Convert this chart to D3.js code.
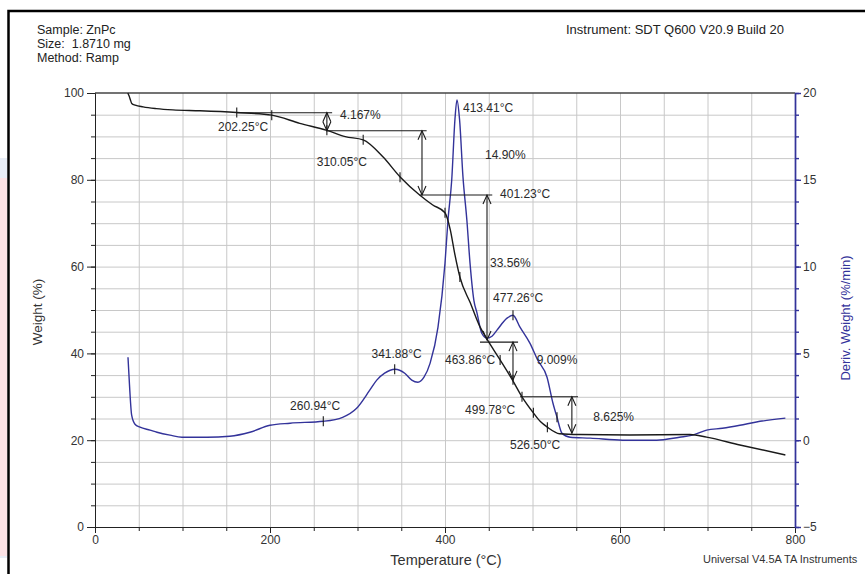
<!DOCTYPE html>
<html>
<head>
<meta charset="utf-8">
<script src="https://cdn.jsdelivr.net/npm/d3@7"></script>
<style>
  body { margin: 0; background: #fff; }
  svg { display: block; font-family: "Liberation Sans", Arial, sans-serif; }
  .grid line { stroke: #c8c8c8; stroke-width: 1; }
  .grid path { display: none; }
  .ann { font-size: 12px; fill: #2a2a2a; }
  .tick text { font-size: 12px; fill: #333; }
</style>
</head>
<body>
<div id="chart"></div>
<script>
// tick labels
var tempTicks = [0, 200, 400, 600, 800];
var weightTicks = [0, 20, 40, 60, 80, 100];
var derivTicks = [-5, 0, 5, 10, 15, 20];

// weight curve (black)
var tgaTemp = [37.5, 39, 40.5, 42, 46, 55, 70, 89, 120, 162, 202, 234, 265, 286, 306.5, 329, 349, 371, 386, 400, 406, 411, 417, 429, 440, 448, 463, 477, 488, 501, 509, 517, 531, 554, 611, 680, 699, 737, 789];
var tgaWeight = [100, 99.3, 98.4, 97.6, 97.2, 96.8, 96.4, 96.1, 95.9, 95.5, 94.9, 93.0, 91.4, 89.95, 89.2, 85.3, 80.6, 76.5, 74.2, 72.4, 68.5, 63.1, 57.6, 51.6, 46.1, 43.3, 38.5, 33.9, 30.0, 26.3, 24.3, 23.0, 21.5, 21.3, 21.2, 21.3, 20.7, 18.9, 16.6];

// derivative weight curve (blue)
var dtgTemp = [37.7, 39.4, 41.9, 45.7, 51.4, 62.9, 70.9, 85.7, 99.4, 128, 154, 177, 200, 223, 261, 283, 299, 314, 322, 331, 342.9, 354, 362, 369, 376, 383, 392, 400, 403.4, 407.7, 411.4, 413.7, 416.6, 420.5, 425, 428.6, 433, 436.6, 442, 448, 453.7, 459.4, 470.9, 477.7, 485.7, 497, 506, 516.6, 523.4, 528, 533.7, 543, 566, 603, 642, 668, 683, 699, 717, 737, 756, 789];
var dtgDeriv = [4.78, 3.2, 1.44, 0.92, 0.75, 0.58, 0.46, 0.29, 0.17, 0.17, 0.23, 0.46, 0.86, 0.98, 1.09, 1.32, 1.84, 2.88, 3.46, 3.86, 4.09, 3.86, 3.46, 3.34, 3.63, 4.44, 6.51, 10.2, 12.67, 15.0, 18.5, 19.6, 18.5, 15.2, 12.67, 10.2, 8.06, 7.32, 6.16, 5.88, 5.99, 6.34, 7.03, 7.2, 6.51, 5.59, 4.61, 3.63, 2.13, 1.32, 0.40, 0.17, 0.12, 0.0, 0.0, 0.17, 0.29, 0.58, 0.69, 0.86, 1.05, 1.27];

// step analysis: [temp from, temp to, weight]
var stepLevels = [[162, 271, 95.46], [265, 379, 91.3], [371, 454, 76.5], [440, 483.5, 42.6], [485.7, 552, 30.0]];
// double arrows: [temp, weight top, weight bottom]
var stepArrows = [[265, 95.46, 91.3], [373.7, 91.3, 76.5], [448, 76.5, 43.1], [477.7, 42.6, 33.9], [545, 30.0, 21.6]];
// small marks on the weight curve: [temp, weight]
var tgaMarks = [[162, 95.5], [202, 94.9], [265, 91.4], [306.5, 89.2], [348.6, 80.6], [400, 72.4], [417, 57.6], [463, 38.5], [477.7, 33.9], [488, 30.0], [501, 26.3], [517, 23.0]];
// marks on the derivative curve: [temp, deriv]
var dtgMarks = [[260.9, 1.09], [342.5, 4.09], [477.7, 7.2], [528, 1.32]];
// labels: text, [temp, weight] of their left/middle point
var annText = ["202.25°C", "4.167%", "310.05°C", "14.90%", "413.41°C", "401.23°C", "33.56%", "477.26°C", "463.86°C", "9.009%", "499.78°C", "8.625%", "526.50°C", "260.94°C", "341.88°C"];
var annTemp = [140.6, 280, 253.4, 445.7, 420.6, 462.9, 451.4, 454.9, 400, 504.8, 422.9, 569.5, 474.3, 222.9, 316];
var annWeight = [92.1, 95.05, 84.2, 85.7, 96.5, 76.7, 60.8, 52.7, 38.5, 38.6, 27.1, 25.4, 18.9, 27.9, 40.0];

var W = 865, H = 574;
var svg = d3.select("#chart").append("svg").attr("width", W).attr("height", H);

// faint strip left of the frame
svg.append("rect").attr("x", 0).attr("y", 158).attr("width", 7).attr("height", 400).attr("fill", "#e8edf6");
svg.append("rect").attr("x", 0).attr("y", 178).attr("width", 7).attr("height", 378).attr("fill", "#fbe2e5");

// frame
svg.append("rect")
  .attr("x", 8.5).attr("y", 11).attr("width", 900).attr("height", 700)
  .attr("fill", "none").attr("stroke", "#000").attr("stroke-width", 2.5);

var plotLeft = 95, plotRight = 795, plotTop = 93, plotBottom = 527;
var x = d3.scaleLinear().domain([0, 800]).range([plotLeft, plotRight]);
var yW = d3.scaleLinear().domain([0, 100]).range([plotBottom, plotTop]);
var yD = d3.scaleLinear().domain([-5, 20]).range([plotBottom, plotTop]);

// grid
svg.append("g").attr("class", "grid")
  .attr("transform", "translate(0," + plotBottom + ")")
  .call(d3.axisBottom(x).tickValues(d3.range(50, 800, 50)).tickSize(-(plotBottom - plotTop)).tickFormat(""));
svg.append("g").attr("class", "grid")
  .attr("transform", "translate(" + plotLeft + ",0)")
  .call(d3.axisLeft(yW).tickValues(d3.range(5, 100, 5)).tickSize(-(plotRight - plotLeft)).tickFormat(""));

svg.append("line")
  .attr("x1", plotLeft).attr("x2", plotRight).attr("y1", plotTop).attr("y2", plotTop)
  .attr("stroke", "#444").attr("stroke-width", 1.4);

// x axis
var gx = svg.append("g").attr("transform", "translate(0," + plotBottom + ")");
gx.call(d3.axisBottom(x).tickValues(d3.range(0, 801, 50)).tickSize(4).tickSizeOuter(0).tickFormat(""));
gx.append("g").call(d3.axisBottom(x).tickValues(tempTicks).tickSize(6).tickPadding(2).tickSizeOuter(0));
gx.selectAll("path, line").attr("stroke", "#222");

// left axis
var gy = svg.append("g").attr("transform", "translate(" + plotLeft + ",0)");
gy.call(d3.axisLeft(yW).tickValues(d3.range(0, 101, 5)).tickSize(4).tickSizeOuter(0).tickFormat(""));
gy.append("g").call(d3.axisLeft(yW).tickValues(weightTicks).tickSize(8).tickPadding(3).tickSizeOuter(0));
gy.selectAll("path, line").attr("stroke", "#222");

// right axis
var blue = "#33339a";
var gr = svg.append("g").attr("transform", "translate(" + plotRight + ",0)");
gr.call(d3.axisRight(yD).tickValues(d3.range(-5, 20.01, 1.25)).tickSize(4).tickSizeOuter(0).tickFormat(""));
gr.append("g").call(d3.axisRight(yD).tickValues(derivTicks).tickSize(6).tickPadding(2).tickSizeOuter(0));
gr.selectAll("path, line").attr("stroke", blue).attr("stroke-width", 1.4);

// axis titles
svg.append("text")
  .attr("x", 446).attr("y", 565)
  .attr("text-anchor", "middle").attr("font-size", 14.5).attr("fill", "#333")
  .text("Temperature (°C)");
svg.append("text")
  .attr("transform", "translate(42,312) rotate(-90)")
  .attr("text-anchor", "middle").attr("font-size", 13.5).attr("fill", "#333")
  .text("Weight (%)");
svg.append("text")
  .attr("transform", "translate(850,318) rotate(-90)")
  .attr("text-anchor", "middle").attr("font-size", 13).attr("fill", blue)
  .text("Deriv. Weight (%/min)");

// header
var header = svg.append("g").attr("font-size", 12.5).attr("fill", "#222");
header.append("text").attr("x", 37).attr("y", 33.5).text("Sample: ZnPc");
header.append("text").attr("x", 37).attr("y", 47.5).attr("xml:space", "preserve").text("Size:  1.8710 mg");
header.append("text").attr("x", 37).attr("y", 61.5).text("Method: Ramp");
header.append("text").attr("x", 566).attr("y", 34).attr("font-size", 13).text("Instrument: SDT Q600 V20.9 Build 20");
svg.append("text").attr("x", 703).attr("y", 563).attr("font-size", 11).attr("fill", "#333")
  .text("Universal V4.5A TA Instruments");

// curves
var tga = tgaTemp.map((t, i) => ({ t: t, v: tgaWeight[i] }));
var dtg = dtgTemp.map((t, i) => ({ t: t, v: dtgDeriv[i] }));

svg.append("path").datum(dtg)
  .attr("fill", "none").attr("stroke", blue).attr("stroke-width", 1.4)
  .attr("d", d3.line().x(d => x(d.t)).y(d => yD(d.v)).curve(d3.curveMonotoneX));

svg.append("path").datum(tga)
  .attr("fill", "none").attr("stroke", "#1a1a1a").attr("stroke-width", 1.4)
  .attr("d", d3.line().x(d => x(d.t)).y(d => yW(d.v)).curve(d3.curveMonotoneX));

// step annotations
var ann = svg.append("g").attr("stroke", "#1a1a1a").attr("stroke-width", 1.1).attr("fill", "none");

ann.selectAll(".lvl").data(stepLevels).enter().append("line")
  .attr("x1", d => x(d[0])).attr("x2", d => x(d[1]))
  .attr("y1", d => yW(d[2])).attr("y2", d => yW(d[2]));

stepArrows.forEach(function (d) {
  var ax = x(d[0]), y1 = yW(d[1]), y2 = yW(d[2]);
  ann.append("line").attr("x1", ax).attr("x2", ax).attr("y1", y1).attr("y2", y2);
  var hl = Math.min(9, (y2 - y1) / 2);
  ann.append("path").attr("d", "M" + (ax - 4) + "," + (y1 + hl) + "L" + ax + "," + y1 + "L" + (ax + 4) + "," + (y1 + hl));
  ann.append("path").attr("d", "M" + (ax - 4) + "," + (y2 - hl) + "L" + ax + "," + y2 + "L" + (ax + 4) + "," + (y2 - hl));
});

ann.selectAll(".tm").data(tgaMarks).enter().append("line")
  .attr("x1", d => x(d[0])).attr("x2", d => x(d[0]))
  .attr("y1", d => yW(d[1]) - 5).attr("y2", d => yW(d[1]) + 5);

svg.append("g").attr("stroke", "#1a1a1a").attr("stroke-width", 1.1)
  .selectAll("line").data(dtgMarks).enter().append("line")
  .attr("x1", d => x(d[0])).attr("x2", d => x(d[0]))
  .attr("y1", d => yD(d[1]) - 5).attr("y2", d => yD(d[1]) + 5);

svg.append("g").selectAll("text").data(annText).enter().append("text")
  .attr("class", "ann")
  .attr("x", (d, i) => x(annTemp[i]))
  .attr("y", (d, i) => yW(annWeight[i]))
  .attr("dy", "0.35em")
  .text(d => d);
</script>
</body>
</html>
